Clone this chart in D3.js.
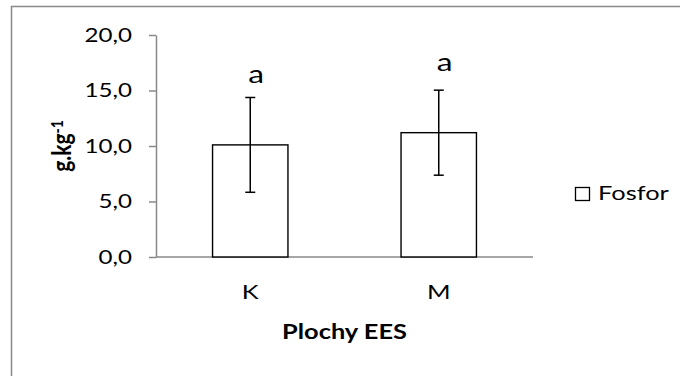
<!DOCTYPE html>
<html lang="en">
<head>
    <meta charset="UTF-8">
    <title>Fosfor - Plochy EES</title>
    <script src="https://d3js.org/d3.v7.min.js"></script>
    <style>
        body { margin: 0; background: #fff; }
        text { font-family: Lato, "Open Sans", sans-serif; fill: #000; }
        .axis path, .axis line { stroke: #898989; stroke-width: 1.5px; }
        .bar { fill: #fff; stroke: #000; stroke-width: 1.4px; }
        .err { stroke: #000; stroke-width: 1.5px; }
    </style>
</head>
<body>
    <svg id="chart"></svg>
    <script>
        // data
        const categories = ["K", "M"];
        const means = [10.1, 11.2];
        const errors = [4.27, 3.83];
        const letters = ["a", "a"];
        const yTicks = [0, 5, 10, 15, 20];
        const seriesName = "Fosfor";

        const width = 680, height = 376;
        const margin = { top: 35, right: 147, bottom: 119, left: 156 };
        const sx = 1.27; // the original picture is stretched sideways

        const svg = d3.select("#chart")
            .attr("width", width)
            .attr("height", height);

        // chart frame
        svg.append("rect")
            .attr("x", 11.5).attr("y", 6.5)
            .attr("width", width + 20).attr("height", height + 20)
            .attr("fill", "none")
            .attr("stroke", "#898989")
            .attr("stroke-width", 1.5);

        const x = d3.scaleBand()
            .domain(categories)
            .range([margin.left, width - margin.right])
            .paddingInner(0.6)
            .paddingOuter(0.3);

        const y = d3.scaleLinear()
            .domain([0, 20])
            .range([height - margin.bottom, margin.top]);

        // y axis
        const yAxis = svg.append("g")
            .attr("class", "axis")
            .attr("transform", "translate(" + margin.left + ",0)")
            .call(d3.axisLeft(y).tickValues(yTicks).tickSize(7).tickSizeOuter(0)
                .tickFormat(d => d3.format(".1f")(d).replace(".", ",")));
        yAxis.selectAll("text")
            .attr("x", 0)
            .attr("font-size", "19px")
            .attr("transform", "translate(-24,0) scale(" + sx + ",1)");

        // x axis baseline, no ticks
        svg.append("line")
            .attr("x1", margin.left).attr("x2", width - margin.right)
            .attr("y1", y(0)).attr("y2", y(0))
            .attr("stroke", "#898989").attr("stroke-width", 1.5);

        // bars
        svg.selectAll(".bar")
            .data(categories)
            .enter().append("rect")
            .attr("class", "bar")
            .attr("x", d => x(d))
            .attr("width", x.bandwidth())
            .attr("y", (d, i) => y(means[i]))
            .attr("height", (d, i) => y(0) - y(means[i]));

        // error bars
        categories.forEach((c, i) => {
            const cx = x(c) + x.bandwidth() / 2;
            const top = y(means[i] + errors[i]);
            const bot = y(means[i] - errors[i]);
            svg.append("line").attr("class", "err")
                .attr("x1", cx).attr("x2", cx).attr("y1", top).attr("y2", bot);
            svg.append("line").attr("class", "err")
                .attr("x1", cx - 5).attr("x2", cx + 5).attr("y1", top).attr("y2", top);
            svg.append("line").attr("class", "err")
                .attr("x1", cx - 5).attr("x2", cx + 5).attr("y1", bot).attr("y2", bot);

            // significance letter
            svg.append("text")
                .attr("text-anchor", "middle")
                .attr("font-size", "25px")
                .attr("transform", "translate(" + (cx + 6) + "," + (y(means[i]) - 62) + ") scale(" + sx + ",1)")
                .text(letters[i]);

            // category label
            svg.append("text")
                .attr("text-anchor", "middle")
                .attr("font-size", "20px")
                .attr("transform", "translate(" + cx + "," + (y(0) + 42) + ") scale(" + sx + ",1)")
                .text(c);
        });

        // axis titles
        svg.append("text")
            .attr("text-anchor", "middle")
            .attr("font-size", "20px")
            .attr("font-weight", "bold")
            .attr("transform", "translate(" + ((margin.left + width - margin.right) / 2) + ",339) scale(" + sx + ",1)")
            .text("Plochy EES");

        const yTitle = svg.append("text")
            .attr("text-anchor", "middle")
            .attr("font-size", "21px")
            .attr("font-weight", "bold")
            .attr("transform", "translate(71," + ((margin.top + height - margin.bottom) / 2) + ") scale(" + sx + ",1) rotate(-90)");
        yTitle.append("tspan").text("g.kg");
        yTitle.append("tspan").attr("dy", "-0.45em").attr("font-size", "14px").text("-1");

        // legend
        const legend = svg.append("g")
            .attr("transform", "translate(575,187)");
        legend.append("rect")
            .attr("x", 0.5).attr("y", 0.5)
            .attr("width", 14).attr("height", 13)
            .attr("fill", "#fff").attr("stroke", "#000").attr("stroke-width", 1.3);
        legend.append("text")
            .attr("font-size", "20px")
            .attr("transform", "translate(23,12.5) scale(" + sx + ",1)")
            .text(seriesName);
    </script>
</body>
</html>
